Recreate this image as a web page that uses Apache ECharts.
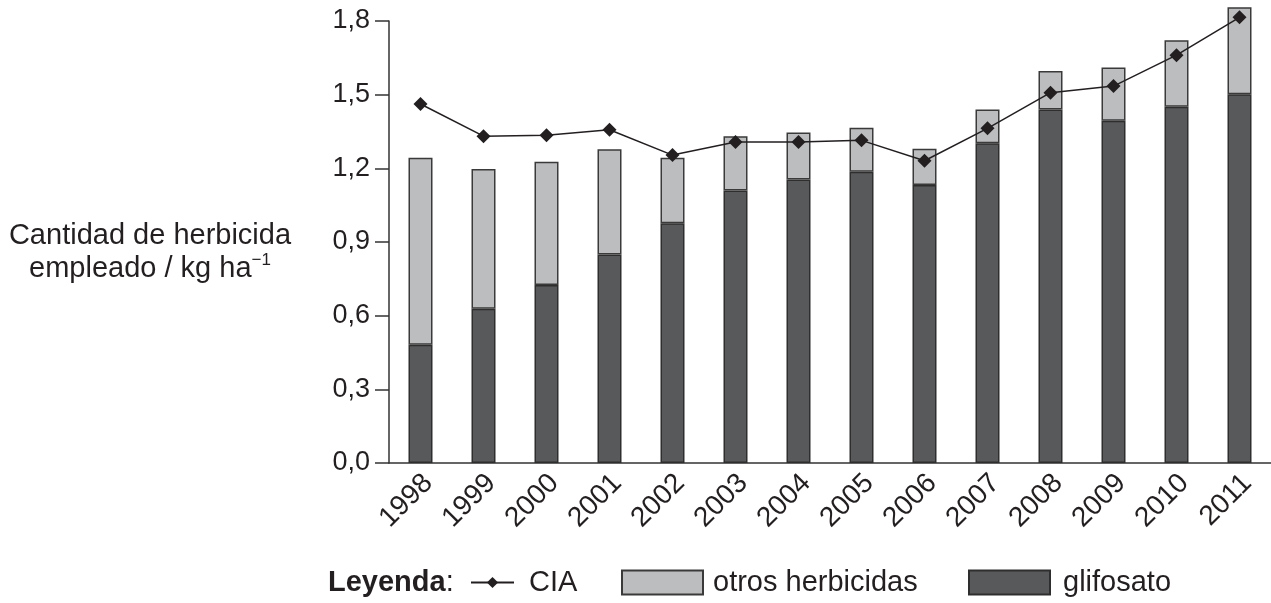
<!DOCTYPE html>
<html>
<head>
<meta charset="utf-8">
<script src="https://cdn.jsdelivr.net/npm/echarts@6/dist/echarts.min.js"></script>
<style>
html,body{margin:0;padding:0;background:#fff;}
#c{width:1271px;height:603px;}
</style>
</head>
<body>
<div id="c"></div>
<script>
var years = ['1998','1999','2000','2001','2002','2003','2004','2005','2006','2007','2008','2009','2010','2011'];
var glifosato = [0.482,0.628,0.725,0.849,0.976,1.110,1.155,1.186,1.132,1.302,1.440,1.394,1.451,1.502];
var otros = [0.761,0.569,0.502,0.429,0.267,0.221,0.191,0.179,0.148,0.138,0.156,0.217,0.271,0.354];
var cia = [1.462,1.331,1.335,1.357,1.254,1.307,1.307,1.314,1.231,1.363,1.508,1.535,1.661,1.815];
var yTickLabels = ['0,0','0,3','0,6','0,9','1,2','1,5','1,8'];

var FONT = 'Liberation Sans, Arial, sans-serif';
var TXT = '#231f20';
var chart = echarts.init(document.getElementById('c'), null, {renderer:'canvas'});
chart.setOption({
  backgroundColor:'#fff',
  animation:false,
  grid:{left:389, right:0, top:21, bottom:140, containLabel:false},
  xAxis:{
    type:'category', data:years,
    axisLine:{lineStyle:{color:'#333', width:1.5}},
    axisTick:{show:false},
    axisLabel:{rotate:45, margin:8, verticalAlign:'top', lineHeight:22, fontSize:28, color:TXT, fontFamily:FONT, interval:0}
  },
  yAxis:{
    type:'value', min:0, max:1.8, interval:0.3,
    axisLine:{show:true, lineStyle:{color:'#333', width:1.5}},
    axisTick:{show:true, length:14, lineStyle:{color:'#333', width:1.5}},
    splitLine:{show:false},
    axisLabel:{margin:19, fontSize:27, color:TXT, fontFamily:FONT,
      formatter:function(v){ return yTickLabels[Math.round(v/0.3)]; }}
  },
  legend:[
    {data:['CIA'], left:470, top:568, padding:0, itemWidth:43, itemHeight:14, itemGap:0,
     textStyle:{fontSize:29, color:TXT, fontFamily:FONT, padding:[0,0,0,10]}},
    {data:[{name:'otros herbicidas', icon:'rect'}], left:621, top:568, padding:0, itemWidth:81, itemHeight:24, itemGap:0,
     textStyle:{fontSize:29, color:TXT, fontFamily:FONT, padding:[0,0,0,5]}},
    {data:[{name:'glifosato', icon:'rect'}], left:968, top:568, padding:0, itemWidth:81, itemHeight:24, itemGap:0,
     textStyle:{fontSize:29, color:TXT, fontFamily:FONT, padding:[0,0,0,8]}}
  ],
  graphic:[
    {type:'text', left:328, top:568, style:{
      text:'{b|Leyenda}:', fill:TXT, font:'29px '+FONT,
      rich:{b:{fontWeight:'bold', fontSize:29, fontFamily:FONT, fill:TXT}}
    }},
    {type:'text', x:150, y:252, style:{
      text:'Cantidad de herbicida\nempleado / kg ha{s|−1}',
      fill:TXT, fontSize:29, fontFamily:FONT, align:'center', verticalAlign:'middle', lineHeight:33,
      rich:{s:{fontSize:17, fontFamily:FONT, fill:TXT, verticalAlign:'top', lineHeight:33, padding:[0,0,12,0]}}
    }}
  ],
  series:[
    {name:'glifosato', type:'bar', stack:'t', data:glifosato, barWidth:24, clip:false,
     itemStyle:{color:'#58595b', borderColor:'#2e2e2e', borderWidth:1.5}},
    {name:'otros herbicidas', type:'bar', stack:'t', data:otros, barWidth:24, clip:false,
     itemStyle:{color:'#bcbdbf', borderColor:'#3a3a3a', borderWidth:1.5}},
    {name:'CIA', type:'line', data:cia, symbol:'diamond', symbolSize:14, clip:false, z:5,
     lineStyle:{color:'#231f20', width:1.5}, itemStyle:{color:'#231f20'}}
  ]
});
</script>
</body>
</html>
